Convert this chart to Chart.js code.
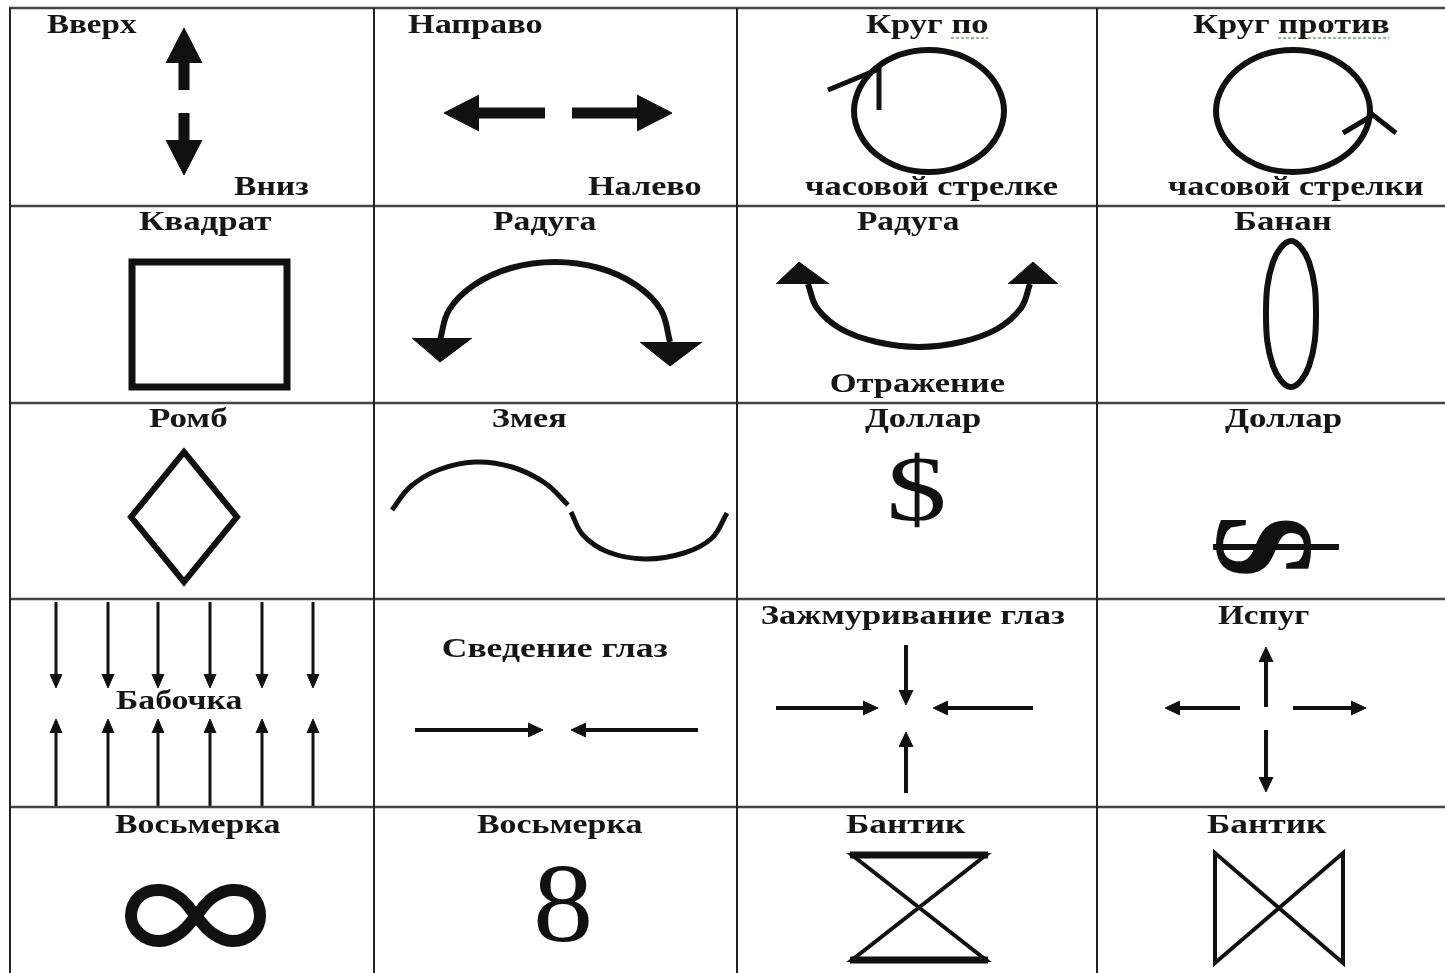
<!DOCTYPE html>
<html>
<head>
<meta charset="utf-8">
<script src="https://cdn.jsdelivr.net/npm/chart.js@4/dist/chart.umd.min.js"></script>
<style>
  html, body { margin: 0; padding: 0; background: #fff; }
  canvas { display: block; }
</style>
</head>
<body>
<canvas id="c" width="1445" height="973"></canvas>
<script>
// table grid
const COL_X = [10, 374, 737, 1097];
const ROW_Y = [8, 206, 403, 599, 807];

// cell captions
const labelText = ['Вверх', 'Вниз', 'Направо', 'Налево', 'Круг по', 'часовой стрелке', 'Круг против', 'часовой стрелки',
  'Квадрат', 'Радуга', 'Радуга', 'Отражение', 'Банан',
  'Ромб', 'Змея', 'Доллар', 'Доллар',
  'Бабочка', 'Сведение глаз', 'Зажмуривание глаз', 'Испуг',
  'Восьмерка', 'Восьмерка', 'Бантик', 'Бантик'];
const labelLeft  = [47, 234, 408, 588, 866, 805, 1193, 1168, 139, 493, 857, 831, 1234, 149, 493, 865, 1225, 116, 443, 762, 1218, 115, 477, 846, 1207];
const labelRight = [137, 309, 542, 701, 988, 1058, 1389, 1423, 271, 597, 960, 1005, 1331, 227, 566, 980, 1341, 243, 668, 1065, 1309, 281, 643, 966, 1327];
const labelBase  = [33, 195, 33, 195, 33, 195, 33, 195, 230, 230, 230, 392, 230, 427, 427, 427, 427, 709, 657, 624, 624, 833, 833, 833, 833];

// spell-check squiggles under "по" and "против"
const squiggles = [[[951, 38], [988, 38]], [[1278, 38], [1389, 38]]];

// glyph figures: text, center x, center y, ink width, ink height, rotation, bold
const glyphText = ['$', 'S', '8'];
const glyphCX = [917, 1263, 563];
const glyphCY = [490, 547, 905];
const glyphW = [52, 55, 53];
const glyphH = [76, 97, 76];
const glyphRot = [0, 90, 0];
const glyphBold = [false, true, false];

// arrows [x1, y1, x2 (tip), y2 (tip)]
const thickArrows = [[184, 90, 184, 28], [184, 113, 184, 175], [545, 113, 444, 113], [572, 113, 672, 113]];
const mediumArrows = [
  [415, 730, 543, 730], [698, 730, 571, 730],
  [906, 645, 906, 705], [906, 793, 906, 732], [776, 708, 878, 708], [1033, 708, 933, 708],
  [1266, 707, 1266, 647], [1266, 730, 1266, 792], [1240, 708, 1165, 708], [1293, 708, 1366, 708]
];
const butterflyX = [56, 108, 158, 210, 262, 313];
const butterflyDown = [602, 688];
const butterflyUp = [807, 719];

// closed curves: last point before start, loop, then first two again
const cwCircle = [[929, 50], [982, 68], [1004, 111], [982, 154], [929, 172], [876, 154], [854, 111], [876, 68], [929, 50], [982, 68], [1004, 111]];
const cwTick = [[828, 90], [879, 69], [879, 110]];
const ccwCircle = [[1293, 50], [1347, 68], [1370, 111], [1347, 154], [1293, 172], [1239, 154], [1216, 111], [1239, 68], [1293, 50], [1347, 68], [1370, 111]];
const ccwTick = [[1343, 133], [1373, 115], [1396, 133]];

// row 2
const square = [[132, 262], [287, 262], [287, 387], [132, 387], [132, 262], [287, 262]];
const rainbowArc = [[440, 340], [449, 310], [474, 285], [511, 268], [555, 262], [599, 268], [636, 285], [661, 310], [670, 342]];
const rainbowHeads = [[[412, 338], [440, 362], [472, 338]], [[640, 342], [670, 366], [702, 342]]];
const mirrorArc = [[808, 284], [817, 308], [841, 329], [877, 342], [919, 347], [961, 342], [997, 329], [1021, 308], [1030, 284]];
const mirrorHeads = [[[776, 284], [799, 262], [829, 284]], [[1008, 284], [1033, 262], [1058, 284]]];
const banana = [[1291, 241], [1309, 262], [1316, 314], [1309, 366], [1291, 387], [1273, 366], [1266, 314], [1273, 262], [1291, 241], [1309, 262], [1316, 314]];

// row 3
const rhombus = [[184, 452], [237, 517], [184, 582], [131, 517], [184, 452], [237, 517]];
const snakeTop = [[392, 510], [410, 487], [438, 470], [475, 462], [512, 467], [545, 483], [568, 505]];
const snakeBottom = [[571, 512], [583, 535], [608, 552], [645, 559], [684, 553], [712, 538], [727, 513]];
const dollarBar = [[1213, 547], [1339, 547]];

// row 5
const infinity = [[180, 933], [196, 916], [212, 898], [232, 890], [252, 896], [260, 916], [252, 934], [232, 941], [212, 933], [196, 916],
  [180, 898], [160, 890], [140, 896], [131, 916], [140, 934], [160, 941], [180, 933], [196, 916], [212, 898]];
const hourglass = [[852, 855], [986, 855], [852, 960], [986, 960], [852, 855], [986, 855]];
const hourglassBars = [[[850, 855], [988, 855]], [[850, 960], [988, 960]]];
const bowtie = [[1215, 853], [1215, 963], [1343, 853], [1343, 963], [1215, 853], [1215, 963]];

const INK = '#111';

function stroke(points, width, extra) {
  return Object.assign({
    data: points.map(([x, y]) => ({ x, y })),
    showLine: true,
    borderColor: INK,
    backgroundColor: INK,
    borderWidth: width,
    pointRadius: 0,
    pointHoverRadius: 0,
    fill: false,
    tension: 0,
    borderCapStyle: 'butt',
    borderJoinStyle: 'miter'
  }, extra || {});
}
// smooth closed curve: first and last segments only steer the spline, they are not drawn
function loop(points, width) {
  const last = points.length - 1;
  return stroke(points, width, {
    tension: 0.375,
    segment: {
      borderColor: c => (c.p0DataIndex === 0 || c.p1DataIndex === last) ? 'rgba(0,0,0,0)' : undefined
    }
  });
}
// filled area between an x-monotonic polyline and a horizontal base
function solid(points, base) {
  const pts = points.slice().sort((a, b) => a[0] - b[0]);
  return stroke(pts, 1, { fill: { value: base } });
}
function arrow(a, len, half, width) {
  const [x1, y1, x2, y2] = a;
  const out = [];
  if (x1 === x2) {
    const dir = Math.sign(y2 - y1);
    const base = y2 - dir * len;
    out.push(stroke([[x1, y1], [x1, base + dir]], width));
    out.push(solid([[x2 - half, base], [x2, y2], [x2 + half, base]], base));
  } else {
    const dir = Math.sign(x2 - x1);
    const base = x2 - dir * len;
    out.push(stroke([[x1, y1], [base + dir, y1]], width));
    out.push(solid([[x2, y2], [base, y2 - half]], y2));
    out.push(solid([[x2, y2], [base, y2 + half]], y2));
  }
  return out;
}

const datasets = [];
// grid
COL_X.forEach(x => datasets.push(stroke([[x, ROW_Y[0]], [x, 973]], 2, { borderColor: '#222' })));
ROW_Y.forEach(y => datasets.push(stroke([[COL_X[0] - 1, y], [1445, y]], 2.5, { borderColor: '#444' })));
squiggles.forEach(s => datasets.push(stroke(s, 1.5, { borderColor: '#6aa86a', borderDash: [3, 2] })));

thickArrows.forEach(a => datasets.push(...arrow(a, 35, 18, 11)));
mediumArrows.forEach(a => datasets.push(...arrow(a, 15, 7, 4)));
butterflyX.forEach(x => {
  datasets.push(...arrow([x, butterflyDown[0], x, butterflyDown[1]], 14, 6, 3));
  datasets.push(...arrow([x, butterflyUp[0], x, butterflyUp[1]], 14, 6, 3));
});

datasets.push(loop(cwCircle, 6));
datasets.push(stroke(cwTick, 5));
datasets.push(loop(ccwCircle, 6));
datasets.push(stroke(ccwTick, 5));

datasets.push(stroke(square, 7));
datasets.push(stroke(rainbowArc, 6, { tension: 0.375 }));
rainbowHeads.forEach(h => datasets.push(solid(h, h[0][1])));
datasets.push(stroke(mirrorArc, 6, { tension: 0.375 }));
mirrorHeads.forEach(h => datasets.push(solid(h, h[0][1])));
datasets.push(loop(banana, 6));

datasets.push(stroke(rhombus, 6));
datasets.push(stroke(snakeTop, 5, { tension: 0.375 }));
datasets.push(stroke(snakeBottom, 5, { tension: 0.375 }));
datasets.push(stroke(dollarBar, 6));

datasets.push(loop(infinity, 12));
datasets.push(stroke(hourglass, 4));
hourglassBars.forEach(b => datasets.push(stroke(b, 7)));
datasets.push(stroke(bowtie, 4));

const tableText = {
  id: 'tableText',
  afterDatasetsDraw(chart) {
    const { ctx, scales: { x, y } } = chart;
    ctx.save();
    ctx.fillStyle = '#161616';
    ctx.textAlign = 'left';
    ctx.textBaseline = 'alphabetic';
    ctx.font = 'bold 27px "Liberation Serif"';
    labelText.forEach((t, i) => {
      const left = x.getPixelForValue(labelLeft[i]);
      const right = x.getPixelForValue(labelRight[i]);
      const base = y.getPixelForValue(labelBase[i]);
      const m = ctx.measureText(t);
      const sx = (right - left) / (m.actualBoundingBoxLeft + m.actualBoundingBoxRight);
      ctx.save();
      ctx.translate(left, base);
      ctx.scale(sx, 1);
      ctx.fillText(t, m.actualBoundingBoxLeft, 0);
      ctx.restore();
    });
    ctx.fillStyle = INK;
    glyphText.forEach((t, i) => {
      ctx.font = (glyphBold[i] ? 'bold ' : '') + '100px "Liberation Serif"';
      const m = ctx.measureText(t);
      const w = m.actualBoundingBoxLeft + m.actualBoundingBoxRight;
      const h = m.actualBoundingBoxAscent + m.actualBoundingBoxDescent;
      ctx.save();
      ctx.translate(x.getPixelForValue(glyphCX[i]), y.getPixelForValue(glyphCY[i]));
      ctx.rotate(glyphRot[i] * Math.PI / 180);
      ctx.scale(glyphW[i] / w, glyphH[i] / h);
      ctx.fillText(t, -(m.actualBoundingBoxRight - m.actualBoundingBoxLeft) / 2,
        (m.actualBoundingBoxAscent - m.actualBoundingBoxDescent) / 2);
      ctx.restore();
    });
    ctx.restore();
  }
};

new Chart(document.getElementById('c'), {
  type: 'scatter',
  data: { datasets },
  options: {
    responsive: false,
    animation: false,
    events: [],
    layout: { padding: 0, autoPadding: false },
    plugins: { legend: { display: false }, tooltip: { enabled: false } },
    scales: {
      x: { type: 'linear', min: 0, max: 1445, display: false },
      y: { type: 'linear', min: 0, max: 973, reverse: true, display: false }
    }
  },
  plugins: [tableText]
});
</script>
</body>
</html>
